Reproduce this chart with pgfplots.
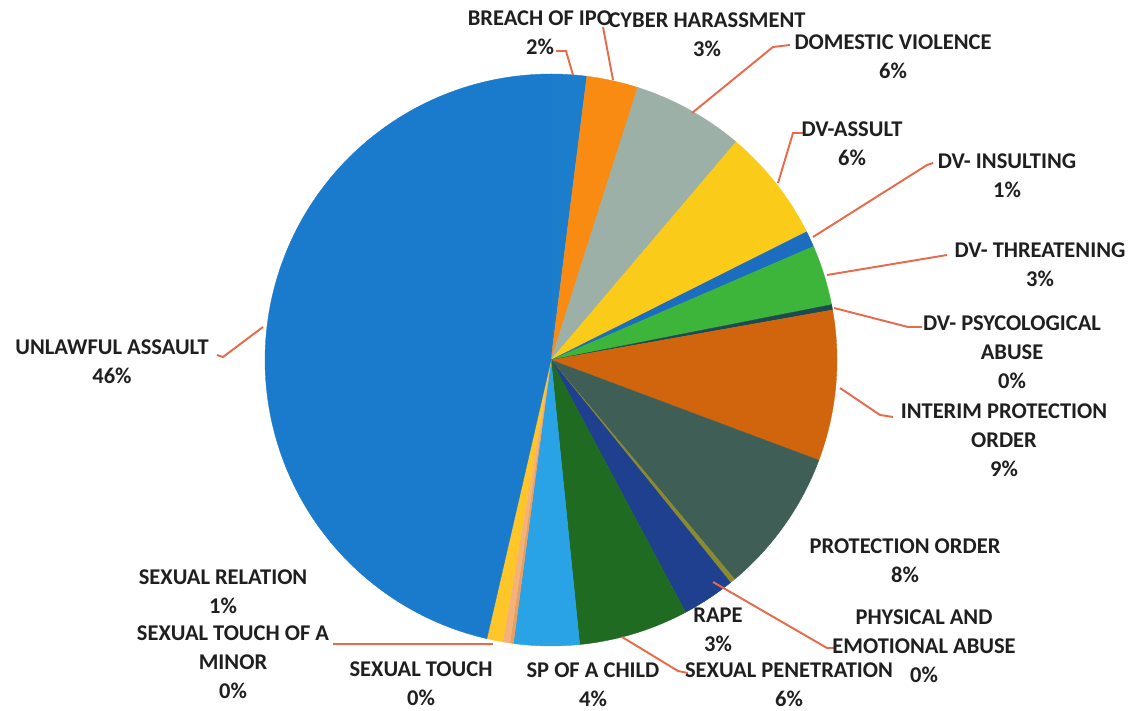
\documentclass[border=0pt]{standalone}
\usepackage{pgfplots}
\pgfplotsset{compat=1.18}
\usepackage{fontspec}
\setmainfont{Carlito}

\definecolor{cBreach}{HTML}{1C7DCC}
\definecolor{cCyber}{HTML}{F98A12}
\definecolor{cDV}{HTML}{9DB0A8}
\definecolor{cAssult}{HTML}{FBCB1A}
\definecolor{cInsult}{HTML}{1C6CC0}
\definecolor{cThreat}{HTML}{3DB53A}
\definecolor{cPsych}{HTML}{1C4A50}
\definecolor{cInterim}{HTML}{D0650E}
\definecolor{cProt}{HTML}{3F5E55}
\definecolor{cPhys}{HTML}{8A8A30}
\definecolor{cRape}{HTML}{1F3F8F}
\definecolor{cPen}{HTML}{1F6B22}
\definecolor{cChild}{HTML}{29A3E5}
\definecolor{cTouch}{HTML}{E8A060}
\definecolor{cMinor}{HTML}{F4B27A}
\definecolor{cRel}{HTML}{FFC629}
\definecolor{cUnl}{HTML}{1A7ACB}
\definecolor{cLeader}{RGB}{232,106,74}

\gdef\cumsum{0}
\newcommand\pieslice[2]{%
  \pgfmathsetmacro\angA{90-3.6*\cumsum}%
  \pgfmathsetmacro\angB{90-3.6*(\cumsum+#1)}%
  \edef\doslice{\noexpand\addplot[draw=#2, line width=0.2pt, fill=#2, domain=\angB:\angA, samples=90] ({551+286*cos(x)},{351+286*sin(x)}) -- (axis cs:551,351) -- cycle;}%
  \doslice
  \pgfmathsetmacro\newsum{\cumsum+#1}%
  \global\let\cumsum\newsum
}

\begin{document}
\begin{tikzpicture}
\begin{axis}[hide axis, scale only axis, width=22.66cm, height=14.22cm,
  xmin=0, xmax=1133, ymin=0, ymax=711, clip=false]
% values in percent, clockwise from 12 o'clock
\pieslice{2.0}{cBreach}   % BREACH OF IPO
\pieslice{2.9}{cCyber}    % CYBER HARASSMENT
\pieslice{6.3}{cDV}       % DOMESTIC VIOLENCE
\pieslice{6.4}{cAssult}   % DV-ASSULT
\pieslice{0.9}{cInsult}   % DV- INSULTING
\pieslice{3.4}{cThreat}   % DV- THREATENING
\pieslice{0.3}{cPsych}    % DV- PSYCOLOGICAL ABUSE
\pieslice{8.5}{cInterim}  % INTERIM PROTECTION ORDER
\pieslice{8.2}{cProt}     % PROTECTION ORDER
\pieslice{0.3}{cPhys}     % PHYSICAL AND EMOTIONAL ABUSE
\pieslice{3.0}{cRape}     % RAPE
\pieslice{6.2}{cPen}      % SEXUAL PENETRATION
\pieslice{3.7}{cChild}    % SP OF A CHILD
\pieslice{0.2}{cTouch}    % SEXUAL TOUCH
\pieslice{0.4}{cMinor}    % SEXUAL TOUCH OF A MINOR
\pieslice{0.9}{cRel}      % SEXUAL RELATION
\pieslice{46.4}{cUnl}     % UNLAWFUL ASSAULT

% leader lines
\begin{scope}[cLeader, line width=1.1pt]
\draw (axis cs:556,660) -- (axis cs:566,660) -- (axis cs:573,636);
\draw (axis cs:603,684) -- (axis cs:613,631);
\draw (axis cs:790,666) -- (axis cs:773,664) -- (axis cs:692,598);
\draw (axis cs:803,578) -- (axis cs:793,578) -- (axis cs:778,528);
\draw (axis cs:933,548) -- (axis cs:927,546) -- (axis cs:813,474);
\draw (axis cs:947,456) -- (axis cs:827,436);
\draw (axis cs:834,403) -- (axis cs:908,384) -- (axis cs:922,384);
\draw (axis cs:893,294) -- (axis cs:880,296) -- (axis cs:840,323);
\draw (axis cs:835,63) -- (axis cs:827,63) -- (axis cs:713,129);
\draw (axis cs:688,38) -- (axis cs:678,40) -- (axis cs:622,74);
\draw (axis cs:333,67) -- (axis cs:493,67);
\draw (axis cs:217,356) -- (axis cs:223,354) -- (axis cs:263,384);
\end{scope}

% labels
\begin{scope}[every node/.style={align=center, text=black!88, font=\bfseries\fontsize{12.8}{16.5}\selectfont, inner sep=0pt}]
\node at (axis cs:540,678) {BREACH OF IPO\\2\%};
\node at (axis cs:707,676) {CYBER HARASSMENT\\3\%};
\node at (axis cs:893,654) {DOMESTIC VIOLENCE\\6\%};
\node at (axis cs:852,567) {DV-ASSULT\\6\%};
\node at (axis cs:1007,535) {DV- INSULTING\\1\%};
\node at (axis cs:1040,446) {DV- THREATENING\\3\%};
\node at (axis cs:1012,359) {DV- PSYCOLOGICAL\\ABUSE\\0\%};
\node at (axis cs:1004,271) {INTERIM PROTECTION\\ORDER\\9\%};
\node at (axis cs:905,150) {PROTECTION ORDER\\8\%};
\node at (axis cs:924,65) {PHYSICAL AND\\EMOTIONAL ABUSE\\0\%};
\node at (axis cs:718,81) {RAPE\\3\%};
\node at (axis cs:789,26) {SEXUAL PENETRATION\\6\%};
\node at (axis cs:593,26) {SP OF A CHILD\\4\%};
\node at (axis cs:421,27) {SEXUAL TOUCH\\0\%};
\node at (axis cs:233,49) {SEXUAL TOUCH OF A\\MINOR\\0\%};
\node at (axis cs:223,119) {SEXUAL RELATION\\1\%};
\node at (axis cs:112,349) {UNLAWFUL ASSAULT\\46\%};
\end{scope}
\end{axis}
\pgfresetboundingbox
\path (current axis.south west) rectangle (current axis.north east);
\end{tikzpicture}
\end{document}
